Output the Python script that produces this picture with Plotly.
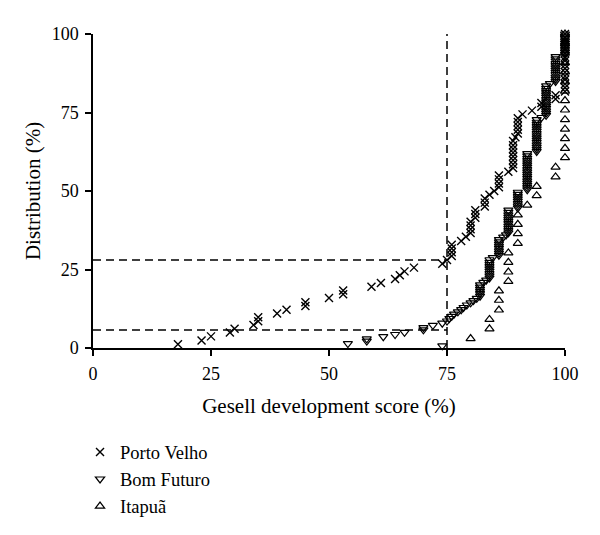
import plotly.graph_objects as go

# ---- data (score %, cumulative distribution %) ----
pv_x = [18, 23, 25, 29, 30, 34, 35, 35, 39, 41, 45, 45, 50, 53, 53, 59, 61, 64, 65, 66,
        68, 74, 75, 76, 76, 76, 76, 78, 79, 80, 80, 80, 80, 81, 81, 81, 83, 83, 83, 84,
        85, 86, 86, 86, 86, 88, 89, 89, 89, 89, 89, 89, 89, 89, 89.5, 90, 90, 90, 90, 90,
        91, 93, 95, 95, 98, 98, 100, 100, 100, 100, 100, 100, 100, 100, 100, 100, 100, 100,
        100, 100, 100, 100]
pv_y = [1.2, 2.4, 3.7, 4.9, 6.1, 7.3, 8.5, 9.8, 11.0, 12.2, 13.4, 14.6, 15.9, 17.1, 18.3,
        19.5, 20.7, 22.0, 23.2, 24.4, 25.6, 26.8, 28.0, 29.3, 30.5, 31.7, 32.9, 34.1, 35.4,
        36.6, 37.8, 39.0, 40.2, 41.5, 42.7, 43.9, 45.1, 46.3, 47.6, 48.8, 50.0, 51.2, 52.4,
        53.7, 54.9, 56.1, 57.3, 58.5, 59.8, 61.0, 62.2, 63.4, 64.6, 65.9, 67.1, 68.3, 69.5,
        70.7, 72.0, 73.2, 74.4, 75.6, 76.8, 78.0, 79.3, 80.5, 81.7, 82.9, 84.1, 85.4, 86.6,
        87.8, 89.0, 90.2, 91.5, 92.7, 93.9, 95.1, 96.3, 97.6, 98.8, 100.0]

bf_x = [74, 54, 58, 58, 61.5, 64, 66, 70, 70, 72, 74, 75, 75.5, 76, 76.5, 77.3, 78, 78.5,
        79.2, 80, 80.6, 81.3, 82, 82, 82, 82, 82, 82, 82.7, 83.3, 84, 84, 84, 84, 84, 84,
        84, 84, 84, 84.7, 86, 86, 86, 86, 86, 86, 86, 86, 86.9, 87.5, 88, 88, 88, 88, 88,
        88, 88, 88, 88, 88, 88, 90, 90, 90, 90, 90, 90, 90, 90, 92, 92, 92, 92, 92, 92, 92,
        92, 92, 92, 92, 92, 92, 92, 92, 92, 92, 94, 94, 94, 94, 94, 94, 94, 94, 94, 94, 94,
        94, 94, 94, 94, 95, 96, 96, 96, 96, 96, 96, 96, 96, 96, 96, 96, 96, 96, 96, 96.8,
        98, 98, 98, 98, 98, 98, 98, 98, 98, 98, 98, 98, 100, 100, 100, 100, 100, 100, 100,
        100, 100, 100]
bf_y = [0.7, 1.4, 2.2, 2.9, 3.6, 4.3, 5.0, 5.8, 6.5, 7.2, 7.9, 8.6, 9.4, 10.1, 10.8, 11.5,
        12.2, 12.9, 13.7, 14.4, 15.1, 15.8, 16.5, 17.3, 18.0, 18.7, 19.4, 20.1, 20.9, 21.6,
        22.3, 23.0, 23.7, 24.5, 25.2, 25.9, 26.6, 27.3, 28.1, 28.8, 29.5, 30.2, 30.9, 31.7,
        32.4, 33.1, 33.8, 34.5, 35.3, 36.0, 36.7, 37.4, 38.1, 38.8, 39.6, 40.3, 41.0, 41.7,
        42.4, 43.2, 43.9, 44.6, 45.3, 46.0, 46.8, 47.5, 48.2, 48.9, 49.6, 50.4, 51.1, 51.8,
        52.5, 53.2, 54.0, 54.7, 55.4, 56.1, 56.8, 57.6, 58.3, 59.0, 59.7, 60.4, 61.2, 61.9,
        62.6, 63.3, 64.0, 64.7, 65.5, 66.2, 66.9, 67.6, 68.3, 69.1, 69.8, 70.5, 71.2, 71.9,
        72.7, 73.4, 74.1, 74.8, 75.5, 76.3, 77.0, 77.7, 78.4, 79.1, 79.9, 80.6, 81.3, 82.0,
        82.7, 83.5, 84.2, 84.9, 85.6, 86.3, 87.1, 87.8, 88.5, 89.2, 89.9, 90.6, 91.4, 92.1,
        92.8, 93.5, 94.2, 95.0, 95.7, 96.4, 97.1, 97.8, 98.6, 99.3, 100.0]

it_x = [80, 84, 84, 86, 86, 86, 88, 88, 88, 88, 90, 90, 90, 90, 92, 94, 94, 98, 98,
        100, 100, 100, 100, 100, 100, 100, 100, 100, 100, 100, 100, 100, 100]
it_y = [3.0, 6.1, 9.1, 12.1, 15.2, 18.2, 21.2, 24.2, 27.3, 30.3, 33.3, 36.4, 39.4, 42.4,
        45.5, 48.5, 51.5, 54.5, 57.6, 60.6, 63.6, 66.7, 69.7, 72.7, 75.8, 78.8, 81.8, 84.8,
        87.9, 90.9, 93.9, 97.0, 100.0]

cutoff_score = 75
pv_at_cutoff = 28.0
bf_at_cutoff = 5.7

tick_vals = [0, 25, 50, 75, 100]
tick_text = ["0", "25", "50", "75", "100"]

FONT = "Liberation Serif"

fig = go.Figure()
fig.add_trace(go.Scatter(
    x=pv_x, y=pv_y, mode="markers", name="Porto Velho", cliponaxis=False,
    marker=dict(symbol="x-thin-open", size=8, color="black",
                line=dict(color="black", width=1.4))))
fig.add_trace(go.Scatter(
    x=bf_x, y=bf_y, mode="markers", name="Bom Futuro", cliponaxis=False,
    marker=dict(symbol="triangle-down-open", size=8, color="black",
                line=dict(color="black", width=1.2))))
fig.add_trace(go.Scatter(
    x=it_x, y=it_y, mode="markers", name="Itapuã", cliponaxis=False,
    marker=dict(symbol="triangle-up-open", size=8, color="black",
                line=dict(color="black", width=1.2))))

dash_line = dict(color="black", width=1.5, dash="8px,5px")
fig.add_shape(type="line", xref="x", yref="y", x0=0, x1=cutoff_score,
              y0=pv_at_cutoff, y1=pv_at_cutoff, line=dash_line, layer="below")
fig.add_shape(type="line", xref="x", yref="y", x0=0, x1=cutoff_score,
              y0=bf_at_cutoff, y1=bf_at_cutoff, line=dash_line, layer="below")
fig.add_shape(type="line", xref="x", yref="y", x0=cutoff_score, x1=cutoff_score,
              y0=0, y1=100, line=dash_line, layer="below")

axis_common = dict(
    range=[0, 100], tickvals=tick_vals, ticktext=tick_text,
    showgrid=False, zeroline=False, showline=True, linecolor="black", linewidth=1.5,
    ticks="outside", ticklen=6, tickwidth=1.5, tickcolor="black",
    tickfont=dict(family=FONT, size=18, color="black"),
    ticklabelstandoff=3,
    automargin=False,
)

fig.update_layout(
    width=600, height=535,
    margin=dict(l=85, r=43, t=26, b=195, autoexpand=False),
    paper_bgcolor="white", plot_bgcolor="white",
    font=dict(family=FONT, color="black"),
    xaxis=dict(**axis_common,
               title=dict(text="Gesell development score (%)",
                          font=dict(family=FONT, size=21, color="black"), standoff=15)),
    yaxis=dict(**axis_common,
               title=dict(text="Distribution (%)",
                          font=dict(family=FONT, size=21, color="black"), standoff=5)),
    showlegend=True,
    legend=dict(x=-0.0275, y=-0.272, xanchor="left", yanchor="top",
                font=dict(family=FONT, size=18.5, color="black"),
                bgcolor="rgba(0,0,0,0)", tracegroupgap=0),
)

fig.write_html("out.html")
